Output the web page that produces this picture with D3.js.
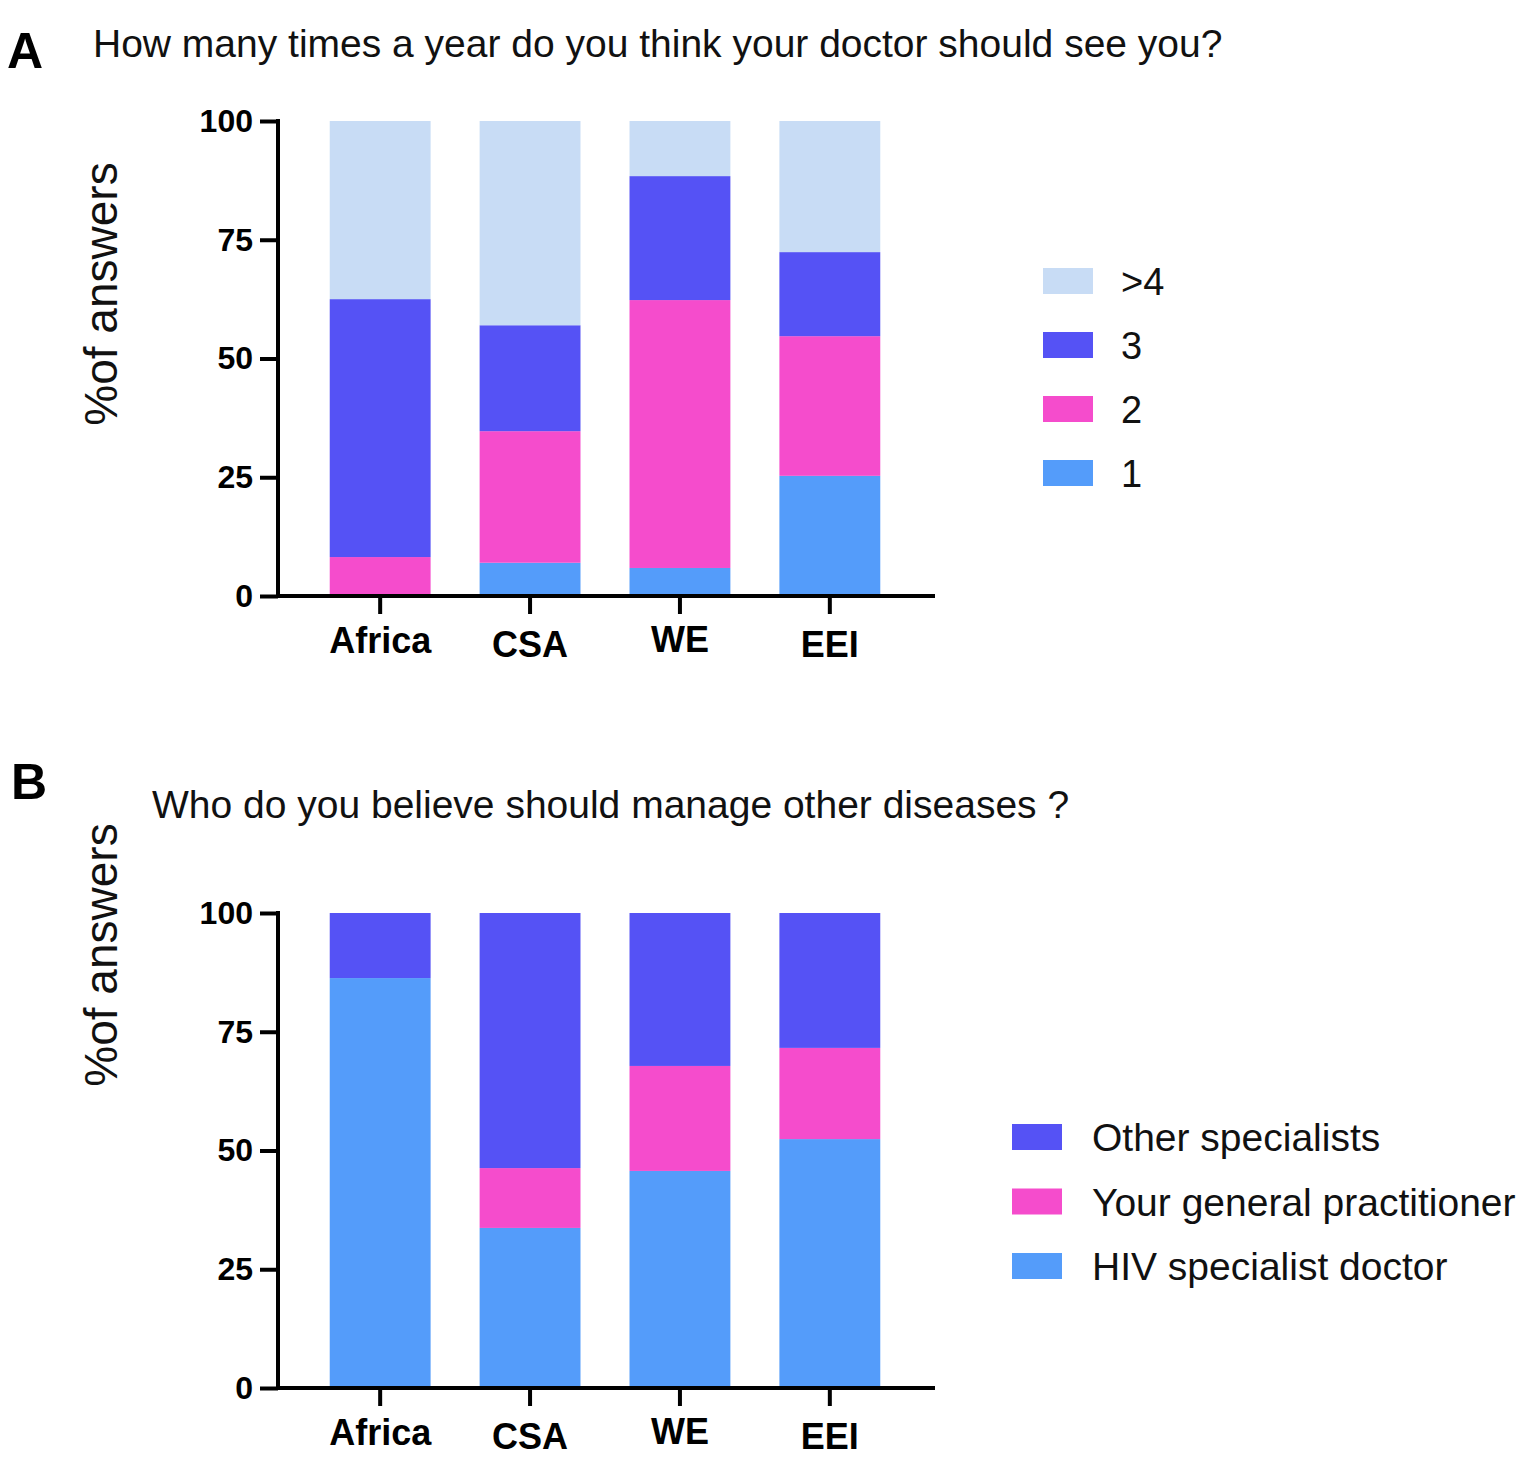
<!DOCTYPE html>
<html>
<head>
<meta charset="utf-8">
<script src="https://cdn.jsdelivr.net/npm/d3@7"></script>
<style>
  body { margin: 0; background: #fff; }
  text { font-family: "Liberation Sans", Arial, sans-serif; }
</style>
</head>
<body>
<div id="chart"></div>
<script>
// regions on the x axis
var regions = ["Africa", "CSA", "WE", "EEI"];
var yTicks = [0, 25, 50, 75, 100];

// panel A: visits per year (bottom to top)
var visitKeys = ["1", "2", "3", ">4"];
var visits1 = [0, 7, 5.9, 25.3];
var visits2 = [8.2, 27.7, 56.4, 29.4];
var visits3 = [54.3, 22.3, 26.1, 17.7];
var visits4plus = [37.5, 43, 11.6, 27.6];

// panel B: who should manage other diseases (bottom to top)
var managerKeys = ["HIV specialist doctor", "Your general practitioner", "Other specialists"];
var hivSpecialist = [86.3, 33.7, 45.7, 52.4];
var generalPractitioner = [0, 12.6, 22.1, 19.2];
var otherSpecialists = [13.7, 53.7, 32.2, 28.4];

var colorA = { "1": "#549cfa", "2": "#f54ccc", "3": "#5552f5", ">4": "#c8dcf5" };
var colorB = {
  "HIV specialist doctor": "#549cfa",
  "Your general practitioner": "#f54ccc",
  "Other specialists": "#5552f5"
};

// the region labels in the original sit a few pixels off each other
var labelShift = { "Africa": 0, "CSA": 4, "WE": -1, "EEI": 4 };

var svgWidth = 1534;
var svgHeight = 1475;

var svg = d3.select("#chart")
  .append("svg")
  .attr("width", svgWidth)
  .attr("height", svgHeight);

// build rows for the stack from the named arrays
function makeRows(keys, series) {
  return regions.map(function(r, i) {
    var row = { region: r };
    keys.forEach(function(k, j) { row[k] = series[j][i]; });
    return row;
  });
}

function drawPanel(opts) {
  var x = d3.scaleBand()
    .domain(regions)
    .range([opts.left + 27, opts.left + 627])
    .paddingInner(0.327)
    .paddingOuter(0.165);

  var y = d3.scaleLinear()
    .domain([0, 100])
    .range([opts.bottom, opts.bottom - 475]);

  var stacked = d3.stack().keys(opts.keys)(opts.rows);

  var g = svg.append("g");

  g.selectAll(".layer")
    .data(stacked)
    .enter()
    .append("g")
    .attr("fill", function(d) { return opts.color[d.key]; })
    .selectAll("rect")
    .data(function(d) { return d; })
    .enter()
    .append("rect")
    .attr("x", function(d) { return x(d.data.region); })
    .attr("y", function(d) { return y(d[1]); })
    .attr("width", x.bandwidth())
    .attr("height", function(d) { return y(d[0]) - y(d[1]); });

  // y axis
  var leftAxis = d3.axisLeft(y).tickValues(yTicks).tickSize(18).tickPadding(7);
  var yAxis = g.append("g")
    .attr("transform", "translate(" + opts.left + ",0)")
    .call(leftAxis);
  yAxis.select(".domain").attr("stroke-width", 4).attr("d", "M0," + (opts.bottom + 2) + "V" + (opts.bottom - 477));
  yAxis.selectAll(".tick line").attr("stroke-width", 4);
  yAxis.selectAll(".tick text")
    .attr("font-size", 32)
    .attr("font-weight", "bold")
    .attr("fill", "#000")
    .attr("font-family", "Liberation Sans, Arial, sans-serif");

  // x axis
  var bottomAxis = d3.axisBottom(x).tickSize(18).tickPadding(13);
  var xAxis = g.append("g")
    .attr("transform", "translate(0," + opts.bottom + ")")
    .call(bottomAxis);
  xAxis.select(".domain").attr("stroke-width", 4).attr("d", "M" + (opts.left - 2) + ",0H" + (opts.left + 657));
  xAxis.selectAll(".tick line").attr("stroke-width", 4);
  xAxis.selectAll(".tick text")
    .attr("font-size", 36)
    .attr("font-weight", "bold")
    .attr("fill", "#000")
    .attr("font-family", "Liberation Sans, Arial, sans-serif")
    .attr("transform", function(d) { return "translate(0," + labelShift[d] + ")"; });

  // y axis title
  g.append("text")
    .attr("transform", "translate(" + opts.yTitleX + "," + opts.yTitleY + ") rotate(-90)")
    .attr("text-anchor", "middle")
    .attr("font-size", 46)
    .attr("fill", "#111")
    .text("%of answers");

  // panel letter and question
  g.append("text")
    .attr("x", opts.letterX)
    .attr("y", opts.letterY)
    .attr("font-size", 50)
    .attr("font-weight", "bold")
    .text(opts.letter);

  g.append("text")
    .attr("x", opts.titleX)
    .attr("y", opts.titleY)
    .attr("font-size", 39)
    .attr("fill", "#111")
    .text(opts.title);

  // legend, top entry first
  var legend = g.append("g");
  var items = opts.keys.slice().reverse();
  items.forEach(function(k, i) {
    var cy = opts.legendY + i * opts.legendStep;
    legend.append("rect")
      .attr("x", opts.legendX)
      .attr("y", cy - 13)
      .attr("width", 50)
      .attr("height", 26)
      .attr("fill", opts.color[k]);
    legend.append("text")
      .attr("x", opts.legendX + opts.labelGap)
      .attr("y", cy)
      .attr("dy", "0.36em")
      .attr("font-size", opts.legendFont)
      .attr("fill", "#111")
      .text(k);
  });
}

drawPanel({
  rows: makeRows(visitKeys, [visits1, visits2, visits3, visits4plus]),
  keys: visitKeys,
  color: colorA,
  left: 278,
  bottom: 596,
  yTitleX: 117,
  yTitleY: 294,
  letter: "A",
  letterX: 7,
  letterY: 68,
  title: "How many times a year do you think your doctor should see you?",
  titleX: 93,
  titleY: 57,
  legendX: 1043,
  legendY: 281,
  legendStep: 64,
  labelGap: 78,
  legendFont: 38
});

drawPanel({
  rows: makeRows(managerKeys, [hivSpecialist, generalPractitioner, otherSpecialists]),
  keys: managerKeys,
  color: colorB,
  left: 278,
  bottom: 1388,
  yTitleX: 117,
  yTitleY: 955,
  letter: "B",
  letterX: 11,
  letterY: 799,
  title: "Who do you believe should manage other diseases ?",
  titleX: 152,
  titleY: 818,
  legendX: 1012,
  legendY: 1137,
  legendStep: 64.5,
  labelGap: 80,
  legendFont: 39
});
</script>
</body>
</html>
